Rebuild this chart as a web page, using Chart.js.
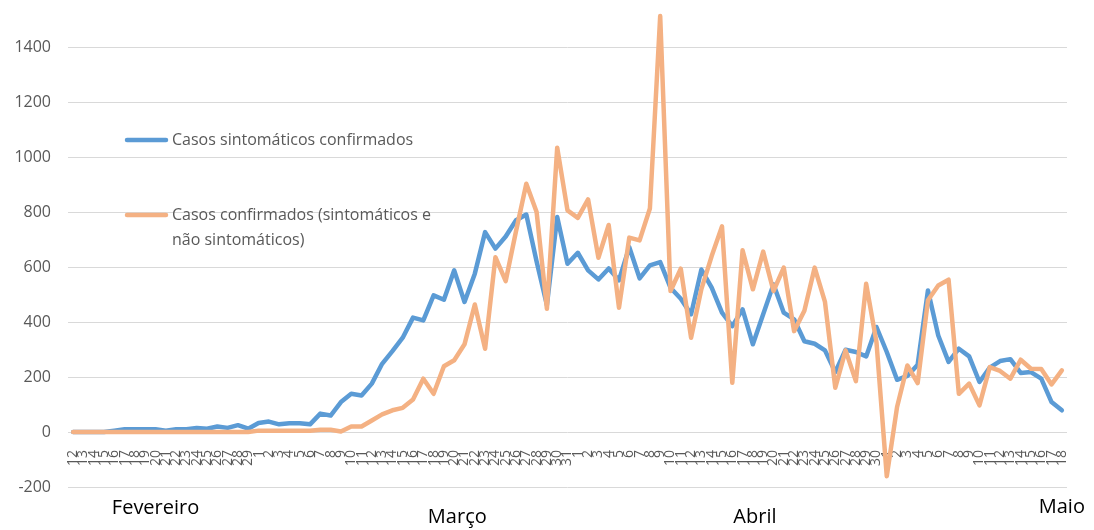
<!DOCTYPE html>
<html lang="pt">
<head>
    <meta charset="UTF-8">
    <title>Casos confirmados</title>
    <script src="https://cdn.jsdelivr.net/npm/chart.js"></script>
    <style>
        body { margin: 0; background: #fff; }
        #wrap { width: 1094px; height: 530px; }
    </style>
</head>
<body>
    <div id="wrap">
        <canvas id="casesChart" width="1094" height="530"></canvas>
    </div>

    <script>
        // dias de 12 fev a 18 mai
        const days = [
            '12','13','14','15','16','17','18','19','20','21','22','23','24','25','26','27','28','29',
            '1','2','3','4','5','6','7','8','9','10','11','12','13','14','15','16','17','18','19','20',
            '21','22','23','24','25','26','27','28','29','30','31',
            '1','2','3','4','5','6','7','8','9','10','11','12','13','14','15','16','17','18','19','20',
            '21','22','23','24','25','26','27','28','29','30',
            '1','2','3','4','5','6','7','8','9','10','11','12','13','14','15','16','17','18'
        ];

        const months = ['Fevereiro', 'Março', 'Abril', 'Maio'];

        const seriesNames = [
            'Casos sintomáticos confirmados',
            'Casos confirmados (sintomáticos e\nnão sintomáticos)'
        ];

        const symptomatic = [
            0, 0, 0, 0, 5, 10, 10, 10, 10, 5, 10, 10, 15, 12, 20, 15, 25, 12,
            33, 38, 28, 32, 32, 28, 67, 60, 109, 139, 133, 176, 248, 294, 343, 416, 406, 497,
            481, 588, 473, 576, 727, 667, 711, 770, 791, 620, 462, 782, 612,
            652, 588, 555, 595, 552, 672, 559, 606, 618, 525, 485, 428, 591, 525, 434, 385,
            446, 319, 428, 537, 434, 410, 330, 321, 297, 218, 299, 291, 275, 382,
            291, 190, 204, 245, 515, 351, 255, 303, 275, 182, 234, 258, 265, 215, 218, 194, 109, 79
        ];

        const allConfirmed = [
            0, 0, 0, 0, 0, 0, 0, 0, 0, 0, 0, 0, 0, 0, 0, 0, 0, 0,
            5, 5, 5, 5, 5, 5, 8, 8, 2, 20, 20, 42, 64, 79, 88, 118, 194, 139,
            239, 261, 319, 464, 303, 636, 549, 730, 903, 800, 448, 1034, 806,
            779, 846, 634, 753, 452, 707, 697, 813, 1513, 513, 594, 343, 520, 640, 748, 179,
            661, 519, 656, 513, 598, 367, 441, 598, 473, 161, 297, 185, 539, 327,
            -161, 91, 242, 178, 479, 533, 554, 139, 176, 97, 236, 222, 194, 263, 230, 229, 173, 224
        ];

        const yTicks = [-200, 0, 200, 400, 600, 800, 1000, 1200, 1400];

        const FONT = "'Open Sans', sans-serif";
        const GREY = '#595959';

        // legenda e nomes dos meses desenhados sobre o gráfico
        const overlay = {
            id: 'overlay',
            afterDraw(chart) {
                const ctx = chart.ctx;
                const x = chart.scales.x;
                ctx.save();

                const legendTop = [140, 215];
                chart.data.datasets.forEach((ds, i) => {
                    const y = legendTop[i];
                    ctx.strokeStyle = ds.borderColor;
                    ctx.lineWidth = 4.5;
                    ctx.lineCap = 'round';
                    ctx.beginPath();
                    ctx.moveTo(127, y);
                    ctx.lineTo(166, y);
                    ctx.stroke();
                    ctx.fillStyle = GREY;
                    ctx.font = '16px ' + FONT;
                    ctx.textBaseline = 'middle';
                    ctx.textAlign = 'left';
                    ds.label.split('\n').forEach((line, j) => {
                        ctx.fillText(line, 172, y + j * 25);
                    });
                });

                const anchors = [8.0, 37.3, 66.2, 96.0];
                const heights = [508, 517, 517, 507];
                ctx.fillStyle = '#000';
                ctx.font = '20px ' + FONT;
                ctx.textAlign = 'center';
                ctx.textBaseline = 'middle';
                months.forEach((m, i) => {
                    ctx.fillText(m, x.getPixelForValue(anchors[i]), heights[i]);
                });
                ctx.restore();
            }
        };

        new Chart(document.getElementById('casesChart').getContext('2d'), {
            type: 'line',
            data: {
                labels: days,
                datasets: [
                    {
                        label: seriesNames[0],
                        data: symptomatic,
                        borderColor: '#5B9BD5',
                        borderWidth: 4.5,
                        pointRadius: 0,
                        tension: 0,
                        borderJoinStyle: 'round',
                        borderCapStyle: 'round',
                        order: 1
                    },
                    {
                        label: seriesNames[1],
                        data: allConfirmed,
                        borderColor: '#F4B183',
                        borderWidth: 4.5,
                        pointRadius: 0,
                        tension: 0,
                        borderJoinStyle: 'round',
                        borderCapStyle: 'round',
                        order: 0
                    }
                ]
            },
            options: {
                responsive: false,
                animation: false,
                layout: { padding: { top: 10, right: 27, bottom: 43, left: 0 } },
                plugins: {
                    legend: { display: false },
                    tooltip: { enabled: false }
                },
                scales: {
                    x: {
                        type: 'category',
                        offset: true,
                        position: { y: 0 },
                        grid: { display: false },
                        border: { display: false },
                        ticks: {
                            autoSkip: false,
                            maxRotation: 90,
                            minRotation: 90,
                            padding: 10,
                            color: GREY,
                            font: { family: FONT, size: 14 }
                        }
                    },
                    y: {
                        min: -200,
                        max: 1535,
                        afterBuildTicks: (axis) => {
                            axis.ticks = yTicks.map(v => ({ value: v }));
                        },
                        afterFit: (axis) => {
                            axis.width = 68;
                            axis.paddingTop = 0;
                            axis.paddingBottom = 0;
                        },
                        grid: { color: '#D9D9D9', lineWidth: 1, drawTicks: false },
                        border: { display: false },
                        ticks: {
                            padding: 17,
                            color: GREY,
                            font: { family: FONT, size: 16 },
                            callback: (v) => String(v)
                        }
                    }
                }
            },
            plugins: [overlay]
        });
    </script>
</body>
</html>
